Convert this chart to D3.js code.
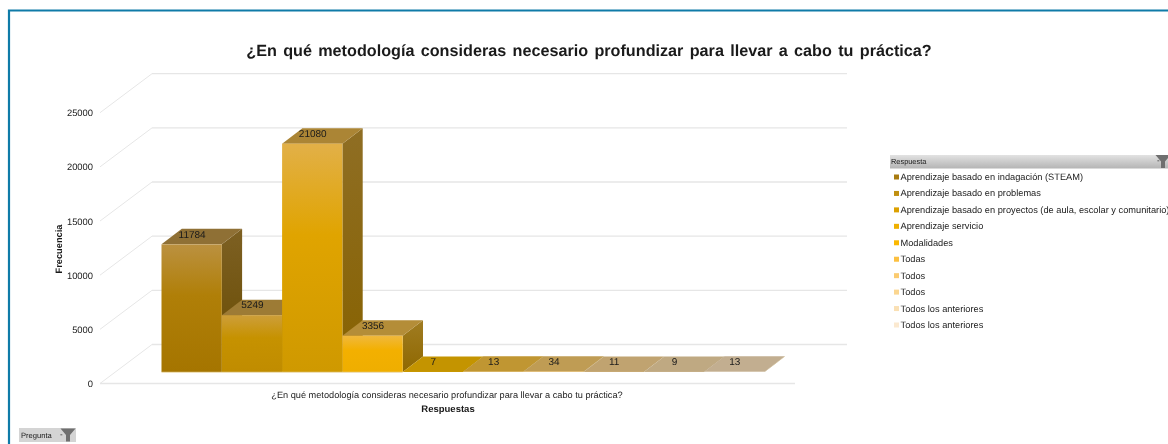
<!DOCTYPE html>
<html lang="es">
<head>
<meta charset="utf-8">
<script src="https://cdn.jsdelivr.net/npm/d3@7"></script>
<style>
html,body{margin:0;padding:0;background:#fff;overflow:hidden}
svg{display:block;filter:blur(0.3px)}
text{font-family:"Liberation Sans",Arial,sans-serif;fill:#1a1a1a;text-rendering:geometricPrecision}
</style>
</head>
<body>
<svg id="chart" width="1168" height="444"></svg>
<script>
const titleText = "¿En qué metodología consideras necesario profundizar para llevar a cabo tu práctica?";
const xCategoryLabel = "¿En qué metodología consideras necesario profundizar para llevar a cabo tu práctica?";
const xAxisTitle = "Respuestas";
const yAxisTitle = "Frecuencia";
const legendTitle = "Respuesta";
const filterLabel = "Pregunta";
const categories = ["Aprendizaje basado en indagación (STEAM)","Aprendizaje basado en problemas","Aprendizaje basado en proyectos (de aula, escolar y comunitario)","Aprendizaje servicio","Modalidades","Todas","Todos","Todos","Todos los anteriores","Todos los anteriores"];
const values = [11784,5249,21080,3356,7,13,34,11,9,13];
const yTicks = [0,5000,10000,15000,20000,25000];
const swatchColors = ["#a87b10","#c08f10","#dca000","#efb000","#fbb800","#fcc040","#fbcb70","#fbd690","#fae0b4","#fbe9d0"];
const frontTopColors = ["#bb9140","#cd9e3a","#e2b048","#f0b83e","#fbb800","#fcc040","#fbcb70","#fbd690","#fae0b4","#fbe9d0"];
const frontMidColors = ["#b07f08","#c69200","#e0a400","#f3b000","#fbb800","#fcc040","#fbcb70","#fbd690","#fae0b4","#fbe9d0"];
const frontBottomColors = ["#a57500","#c08c00","#cf9900","#efae00","#fbb800","#fcc040","#fbcb70","#fbd690","#fae0b4","#fbe9d0"];
const topFaceColors = ["#8f7035","#9d7b35","#ab8535","#b48d38","#c49400","#c09632","#bf9c54","#c0a370","#bfa982","#c2ae90"];
const sideTopColors = ["#7d6023","#866822","#8f6e24","#a07c22","#a07800","#a07800","#a07800","#a07800","#a07800","#a07800"];
const sideBottomColors = ["#684b00","#7a5a00","#876200","#8f6800","#8f6800","#8f6800","#8f6800","#8f6800","#8f6800","#8f6800"];

const svg = d3.select("#chart");
const defs = svg.append("defs");

const frontLeft = 100, frontRight = 795, wallDx = 52, wallDy = 39;
const barDx = 20.3, barDy = 15.5, baseLift = 11.5;

const y = d3.scaleLinear().domain([0,25000]).range([383.5,112.7]);
const x = d3.scaleBand().domain(d3.range(categories.length)).range([161.5,764.5]).padding(0);

// Frame
svg.append("path").attr("d","M9,444V10.5H1168").attr("fill","none").attr("stroke","#0f7ba8").attr("stroke-width",2.2);

// Title
svg.append("text").attr("x",589).attr("y",55.5).attr("text-anchor","middle")
  .attr("font-size",16.2).attr("font-weight","bold").attr("fill","#000")
  .attr("word-spacing",1.8).text(titleText);

// Gridlines on the wall and floor
const grid = svg.append("g").attr("fill","none").attr("stroke","#e6e6e6");
grid.selectAll("line.back").data(yTicks).join("line").attr("class","back")
  .attr("x1",frontLeft+wallDx).attr("x2",frontRight+wallDx+0)
  .attr("y1",d=>y(d)-wallDy).attr("y2",d=>y(d)-wallDy).attr("stroke-width",1.3);
grid.selectAll("line.diag").data(yTicks).join("line").attr("class","diag")
  .attr("x1",frontLeft).attr("x2",frontLeft+wallDx)
  .attr("y1",d=>y(d)).attr("y2",d=>y(d)-wallDy).attr("stroke-width",1);
grid.append("line").attr("x1",frontLeft).attr("x2",frontRight).attr("y1",y(0)).attr("y2",y(0)).attr("stroke-width",1.5);

// Y axis
const yAxis = svg.append("g").attr("transform","translate(93,0)")
  .call(d3.axisLeft(y).tickValues(yTicks).tickSize(0).tickPadding(0).tickFormat(d3.format("d")));
yAxis.select(".domain").remove();
yAxis.selectAll("text").attr("font-size",9.4).attr("font-family",'"Liberation Sans",Arial,sans-serif').attr("fill","#1a1a1a");

svg.append("text").attr("transform","translate(59,249) rotate(-90)").attr("text-anchor","middle")
  .attr("dominant-baseline","central").attr("font-size",9.3).attr("font-weight","bold").text(yAxisTitle);

// Gradients
categories.forEach((_,i)=>{
  const f = defs.append("linearGradient").attr("id","front"+i).attr("x1",0).attr("x2",0).attr("y1",0).attr("y2",1);
  f.append("stop").attr("offset",0).attr("stop-color",frontTopColors[i]);
  f.append("stop").attr("offset",0.4).attr("stop-color",frontMidColors[i]);
  f.append("stop").attr("offset",1).attr("stop-color",frontBottomColors[i]);
  const s = defs.append("linearGradient").attr("id","side"+i).attr("x1",0).attr("x2",0).attr("y1",0).attr("y2",1);
  s.append("stop").attr("offset",0).attr("stop-color",sideTopColors[i]);
  s.append("stop").attr("offset",1).attr("stop-color",sideBottomColors[i]);
});

// Bars
const base = y(0)-baseLift;
const barTop = v => y(v)-baseLift;
const line = d3.line();
const bars = svg.append("g").selectAll("g").data(values).join("g");
bars.append("path").attr("fill",(d,i)=>`url(#side${i})`).attr("d",(d,i)=>{
  const r = x(i)+x.bandwidth();
  return line([[r,barTop(d)],[r+barDx,barTop(d)-barDy],[r+barDx,base-barDy],[r,base]])+"Z";
});
bars.append("path").attr("fill",(d,i)=>topFaceColors[i]).attr("d",(d,i)=>{
  const l = x(i), r = l+x.bandwidth(), t = barTop(d);
  return line([[l,t],[l+barDx,t-barDy],[r+barDx,t-barDy],[r,t]])+"Z";
});
bars.append("rect").attr("fill",(d,i)=>`url(#front${i})`)
  .attr("x",(d,i)=>x(i)).attr("width",x.bandwidth())
  .attr("y",d=>barTop(d)).attr("height",d=>base-barTop(d));
svg.append("line").attr("x1",x(0)).attr("x2",x(3)+x.bandwidth()).attr("y1",base+0.3).attr("y2",base+0.3)
  .attr("stroke","#ecd9a8").attr("stroke-width",1);

// Data labels
svg.append("g").selectAll("text").data(values).join("text")
  .attr("x",(d,i)=>x(i)+x.bandwidth()/2+0.5).attr("y",d=>barTop(d)-barDy/2-1.5)
  .attr("text-anchor","middle").attr("dominant-baseline","central")
  .attr("font-size",10).attr("fill","#111").text(d=>d);

// X labels
svg.append("text").attr("x",447).attr("y",395).attr("text-anchor","middle").attr("dominant-baseline","central")
  .attr("font-size",9.2).text(xCategoryLabel);
svg.append("text").attr("x",448).attr("y",409).attr("text-anchor","middle").attr("dominant-baseline","central")
  .attr("font-size",9.5).attr("font-weight","bold").text(xAxisTitle);

// Filter header shared funnel
const funnel = (g,cx,cy)=>g.append("path")
  .attr("d",`M${cx-7.5},${cy-6.5}H${cx+7.5}L${cx+2},${cy}V${cy+6.5}H${cx-2}V${cy}Z`).attr("fill","#6f6f6f");

// Legend
const hg = defs.append("linearGradient").attr("id","hdr").attr("x1",0).attr("x2",0).attr("y1",0).attr("y2",1);
hg.append("stop").attr("offset",0).attr("stop-color","#e2e2e2");
hg.append("stop").attr("offset",1).attr("stop-color","#b4b4b4");
const lg = svg.append("g");
lg.append("rect").attr("x",890).attr("y",155).attr("width",278).attr("height",13.5).attr("fill","url(#hdr)");
lg.append("text").attr("x",891).attr("y",161.8).attr("dominant-baseline","central").attr("font-size",7.4).attr("fill","#333").text(legendTitle);
funnel(lg,1163,161.5);
lg.append("text").attr("x",1157).attr("y",163).attr("font-size",8).attr("fill","#333").text("-");
const rowY = d3.scalePoint().domain(d3.range(categories.length)).range([177,325]);
lg.selectAll("rect.sw").data(categories).join("rect").attr("class","sw")
  .attr("x",894).attr("width",5).attr("height",5).attr("y",(d,i)=>rowY(i)-2.5).attr("fill",(d,i)=>swatchColors[i]);
lg.selectAll("text.it").data(categories).join("text").attr("class","it")
  .attr("x",900.5).attr("y",(d,i)=>rowY(i)).attr("dominant-baseline","central")
  .attr("font-size",9.25).text(d=>d);

// Page filter button
const pg = svg.append("g");
pg.append("rect").attr("x",19).attr("y",428).attr("width",57).attr("height",14).attr("fill","#d4d4d4");
pg.append("text").attr("x",21).attr("y",435.5).attr("dominant-baseline","central").attr("font-size",7.6).attr("fill","#444").text(filterLabel);
funnel(pg,68,435);
pg.append("text").attr("x",60).attr("y",437).attr("font-size",8).attr("fill","#333").text("-");
</script>
</body>
</html>
